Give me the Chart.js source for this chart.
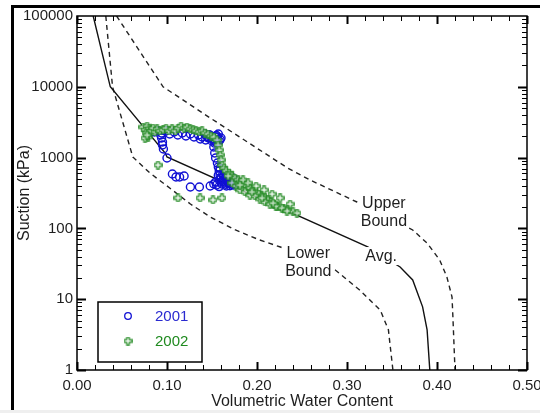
<!DOCTYPE html>
<html>
<head>
<meta charset="utf-8">
<script src="https://cdn.jsdelivr.net/npm/chart.js@4.4.1/dist/chart.umd.min.js"></script>
<style>
  html, body { margin: 0; padding: 0; background: #fff; }
  body { width: 540px; height: 413px; overflow: hidden; position: relative; }
  .frame { position: absolute; left: 11px; top: 5px; width: 600px; height: 405px; border-left: 3px solid #000; border-top: 3px solid #000; }
  .strip { position: absolute; left: 0; top: 410px; width: 540px; height: 3px; background: #efefef; }
  .chart-box { position: absolute; left: 0; top: 0; width: 540px; height: 413px; }
</style>
</head>
<body>
<div class="frame"></div>
<div class="strip"></div>
<div class="chart-box"><canvas id="swccChart"></canvas></div>

<script>
/* ---------- data ---------- */
const xTickLabels = ["0.00", "0.10", "0.20", "0.30", "0.40", "0.50"];
const yTickLabels = ["1", "10", "100", "1000", "10000", "100000"];
const seriesNames = ["2001", "2002"];

// fitted curves (volumetric water content vs suction, kPa)
const avgX = [0.018, 0.037, 0.098, 0.100, 0.323, 0.359, 0.373, 0.384, 0.389, 0.392];
const avgY = [100000, 10000, 1160, 1020, 55, 28.5, 18.7, 7.8, 3.7, 1];

const upperX = [0.044, 0.0956, 0.148, 0.234, 0.259, 0.311, 0.373, 0.389, 0.403, 0.411, 0.4167, 0.4178, 0.42];
const upperY = [100000, 10000, 3630, 713, 483, 236, 95, 62, 35.8, 20.6, 10.7, 5.1, 1];

const lowerX = [0.032, 0.0395, 0.062, 0.081, 0.103, 0.126, 0.148, 0.176, 0.203, 0.226, 0.287, 0.314, 0.337, 0.346, 0.351];
const lowerY = [100000, 10000, 1020, 606, 372, 221, 145, 95, 68.6, 54.6, 25.8, 13.5, 7.0, 3.7, 1];

// measured points 2001
const obs2001X = [
  0.086, 0.090, 0.094, 0.099, 0.103, 0.108, 0.112, 0.117, 0.121, 0.126, 0.130, 0.135, 0.139, 0.142,
  0.146, 0.149, 0.152, 0.156, 0.158, 0.154, 0.150, 0.143, 0.137, 0.157, 0.160, 0.145, 0.153,
  0.145, 0.150, 0.155, 0.159, 0.147, 0.153,
  0.093, 0.094, 0.095, 0.095, 0.096, 0.100,
  0.106, 0.110, 0.114, 0.119, 0.126, 0.136, 0.148, 0.152,
  0.152, 0.153, 0.154, 0.156, 0.157, 0.158, 0.159, 0.160, 0.162, 0.164, 0.168, 0.171, 0.174,
  0.158, 0.154, 0.161, 0.166, 0.170, 0.173, 0.177,
  0.163, 0.159, 0.162, 0.167, 0.155, 0.158, 0.176,
  0.160, 0.165, 0.169, 0.172, 0.157, 0.165, 0.170
];
const obs2001Y = [
  2300, 2376, 2225, 2376, 2153, 2300, 2084, 2225, 2017, 2153, 1952, 2084, 1952, 2153,
  1890, 2017, 1830, 1952, 1714, 1660, 1714, 1772, 1830, 2153, 1890, 2000, 1600,
  1950, 1850, 2050, 1800, 2100, 1980,
  2084, 1890, 1660, 1506, 1322, 987,
  587, 532, 532, 550, 384, 384, 397, 424,
  1412, 1161, 987, 839, 736, 647, 568, 515, 483, 452, 438, 424, 410,
  483, 452, 424, 397, 483, 515, 438,
  550, 713, 587, 468, 410, 390, 470,
  450, 520, 450, 470, 560, 420, 400
];

// measured points 2002
const obs2002X = [
  0.0733, 0.0756, 0.0778, 0.0800, 0.0767, 0.0789, 0.0822, 0.0844, 0.0867, 0.0889,
  0.0922, 0.0956, 0.0989, 0.1022, 0.1056, 0.1089, 0.1122, 0.1156, 0.1189, 0.1222,
  0.1256, 0.1289, 0.1322, 0.1356, 0.1389, 0.1422, 0.1456, 0.1489, 0.1522, 0.1556, 0.0756, 0.0778,
  0.1567, 0.1578, 0.1589, 0.1600, 0.1611, 0.1633, 0.1656, 0.1689, 0.1722, 0.1756,
  0.1789, 0.1822, 0.1856, 0.1889, 0.1922, 0.1956, 0.1989, 0.2022, 0.2056, 0.2089,
  0.2122, 0.2156, 0.2189, 0.2222, 0.2256, 0.2300, 0.2344, 0.2400, 0.2444,
  0.1722, 0.1767, 0.1811, 0.1867, 0.1922, 0.1978, 0.2033, 0.2089, 0.2144, 0.2211, 0.2278, 0.2333,
  0.1678, 0.1844, 0.1900, 0.1989, 0.2078, 0.2167, 0.2256, 0.2367,
  0.1811, 0.1944, 0.2056, 0.2178,
  0.0900, 0.1122, 0.1367, 0.1511, 0.1611
];
const obs2002Y = [
  2704, 2455, 2793, 2535, 2225, 1952, 2376, 2618, 2300, 2535,
  2376, 2455, 2618, 2376, 2535, 2376, 2618, 2793, 2618, 2704,
  2535, 2455, 2376, 2300, 2376, 2225, 2153, 2017, 1952, 1772, 1890, 2084,
  1506, 1280, 1088, 925, 785, 713, 647, 606, 550, 515,
  483, 452, 424, 397, 372, 349, 327, 306, 287, 269,
  252, 236, 221, 207, 201, 188, 182, 171, 165,
  438, 397, 349, 327, 296, 287, 260, 236, 221, 207, 194, 176,
  550, 483, 438, 397, 349, 306, 269, 221,
  410, 327, 269, 228,
  785, 269, 269, 252, 269
];

/* ---------- helpers ---------- */
const FONT = '"Liberation Sans", Arial, sans-serif';
const TEXT = "#1e1e1e";
const BLUE = "#1010d4";
const GREEN = "#248a24";

const toPoints = (xs, ys) => xs.map((x, i) => ({ x: x, y: ys[i] }));

// hollow plus marker used for 2002
function makePlusMarker() {
  const c = document.createElement("canvas");
  c.width = 9;
  c.height = 9;
  const g = c.getContext("2d");
  const m = 4.5, a = 1.3, l = 3.7;
  g.beginPath();
  g.moveTo(m - a, m - l); g.lineTo(m + a, m - l); g.lineTo(m + a, m - a); g.lineTo(m + l, m - a);
  g.lineTo(m + l, m + a); g.lineTo(m + a, m + a); g.lineTo(m + a, m + l); g.lineTo(m - a, m + l);
  g.lineTo(m - a, m + a); g.lineTo(m - l, m + a); g.lineTo(m - l, m - a); g.lineTo(m - a, m - a);
  g.closePath();
  g.fillStyle = "rgba(255,255,255,0.7)";
  g.fill();
  g.strokeStyle = GREEN;
  g.lineWidth = 1.2;
  g.stroke();
  return c;
}
const plusMarker = makePlusMarker();

// curve annotations (data coordinates of the label centre)
const curveNotes = [
  { lines: ["Upper", "Bound"], x: 0.341, y: 171 },
  { lines: ["Lower", "Bound"], x: 0.257, y: 33.5 },
  { lines: ["Avg."], x: 0.338, y: 40.7 }
];

/* ---------- plugin: labels, inward ticks, frame, legend ---------- */
const decorPlugin = {
  id: "decor",
  afterDatasetsDraw(chart) {
    const { ctx, scales: { x, y } } = chart;
    ctx.save();
    ctx.font = "16px " + FONT;
    ctx.textAlign = "center";
    ctx.textBaseline = "middle";
    const lh = 18;
    curveNotes.forEach((n) => {
      const cx = x.getPixelForValue(n.x);
      const cy = y.getPixelForValue(n.y);
      const h = n.lines.length * lh;
      const w = Math.max(...n.lines.map((t) => ctx.measureText(t).width)) + 4;
      ctx.fillStyle = "#fff";
      ctx.fillRect(cx - w / 2, cy - h / 2, w, h);
      ctx.fillStyle = TEXT;
      n.lines.forEach((t, i) => ctx.fillText(t, cx, cy - h / 2 + lh * (i + 0.5) + 1));
    });
    ctx.restore();
  },
  afterDraw(chart) {
    const { ctx, chartArea: area, scales: { x, y } } = chart;
    ctx.save();
    ctx.strokeStyle = "#000";

    // x ticks, bottom and top, every 0.02
    for (let i = 0; i <= 25; i++) {
      const px = Math.round(x.getPixelForValue(i * 0.02)) + 0.5;
      const major = i % 5 === 0;
      const len = major ? 8 : 5;
      ctx.lineWidth = major ? 2 : 1;
      ctx.beginPath();
      ctx.moveTo(px, area.bottom);
      ctx.lineTo(px, area.bottom - len);
      ctx.moveTo(px, area.top);
      ctx.lineTo(px, area.top + len);
      ctx.stroke();
    }

    // y ticks (log), left and right
    for (let d = 0; d < 5; d++) {
      for (let m = 1; m <= 9; m++) {
        const v = m * Math.pow(10, d);
        const py = Math.round(y.getPixelForValue(v)) + 0.5;
        const major = m === 1;
        const len = major ? 9 : 5;
        ctx.lineWidth = major ? 2 : 1;
        ctx.beginPath();
        ctx.moveTo(area.left, py);
        ctx.lineTo(area.left + len, py);
        ctx.moveTo(area.right, py);
        ctx.lineTo(area.right - len, py);
        ctx.stroke();
      }
    }

    // plot frame
    ctx.lineWidth = 1.5;
    ctx.strokeRect(area.left, area.top, area.right - area.left, area.bottom - area.top);

    // legend box
    const bx = area.left + 21;
    const by = area.bottom - 68;
    ctx.lineWidth = 1.5;
    ctx.fillStyle = "#fff";
    ctx.fillRect(bx, by, 104, 60);
    ctx.strokeRect(bx, by, 104, 60);

    ctx.strokeStyle = BLUE;
    ctx.lineWidth = 1.3;
    ctx.beginPath();
    ctx.arc(bx + 30, by + 14, 3.3, 0, Math.PI * 2);
    ctx.stroke();
    ctx.drawImage(plusMarker, bx + 30 - 4.5, by + 39 - 4.5);

    ctx.font = "15px " + FONT;
    ctx.textAlign = "left";
    ctx.textBaseline = "middle";
    ctx.fillStyle = "#2a2ad0";
    ctx.fillText(seriesNames[0], bx + 57, by + 15);
    ctx.fillStyle = "#1f8a1f";
    ctx.fillText(seriesNames[1], bx + 57, by + 40);
    ctx.restore();
  }
};

/* ---------- chart ---------- */
const ctx = document.getElementById("swccChart").getContext("2d");

new Chart(ctx, {
  type: "scatter",
  data: {
    datasets: [
      {
        label: seriesNames[1],
        data: toPoints(obs2002X, obs2002Y),
        pointStyle: plusMarker,
        pointRadius: 4,
        order: 0
      },
      {
        label: seriesNames[0],
        data: toPoints(obs2001X, obs2001Y),
        pointStyle: "circle",
        pointRadius: 4,
        borderColor: BLUE,
        backgroundColor: "rgba(0,0,0,0)",
        borderWidth: 1.4,
        order: 1
      },
      {
        label: "Avg.",
        data: toPoints(avgX, avgY),
        showLine: true,
        borderColor: "#111",
        borderWidth: 1.4,
        pointRadius: 0,
        tension: 0,
        order: 2
      },
      {
        label: "Upper Bound",
        data: toPoints(upperX, upperY),
        showLine: true,
        borderColor: "#222",
        borderWidth: 1.4,
        borderDash: [5, 4],
        pointRadius: 0,
        tension: 0,
        order: 3
      },
      {
        label: "Lower Bound",
        data: toPoints(lowerX, lowerY),
        showLine: true,
        borderColor: "#222",
        borderWidth: 1.4,
        borderDash: [5, 4],
        pointRadius: 0,
        tension: 0,
        order: 4
      }
    ]
  },
  options: {
    responsive: true,
    maintainAspectRatio: false,
    animation: false,
    events: [],
    layout: { padding: { top: 16, right: 13, bottom: 0, left: 0 } },
    plugins: {
      legend: { display: false },
      tooltip: { enabled: false }
    },
    scales: {
      x: {
        type: "linear",
        min: 0,
        max: 0.5,
        grid: { display: false, drawTicks: false },
        border: { display: false },
        ticks: {
          stepSize: 0.1,
          autoSkip: false,
          maxRotation: 0,
          padding: 7,
          color: TEXT,
          font: { family: FONT, size: 15 },
          callback: (v) => xTickLabels[Math.round(v / 0.1)] || ""
        },
        title: {
          display: true,
          text: "Volumetric Water Content",
          color: TEXT,
          font: { family: FONT, size: 16 },
          padding: { top: 0, bottom: 2 }
        },
        afterFit: (scale) => {
          scale.height = 43;
          scale.paddingLeft = 0;
          scale.paddingRight = 0;
        }
      },
      y: {
        type: "logarithmic",
        min: 1,
        max: 100000,
        grid: { display: false, drawTicks: false },
        border: { display: false },
        ticks: {
          autoSkip: false,
          padding: 4,
          color: TEXT,
          font: { family: FONT, size: 15 },
          callback: (v) => {
            const e = Math.round(Math.log10(v));
            return Math.abs(v - Math.pow(10, e)) < 1e-6 * v ? yTickLabels[e] : "";
          }
        },
        title: {
          display: true,
          text: "Suction (kPa)",
          color: TEXT,
          font: { family: FONT, size: 16 },
          padding: { top: 15, bottom: 0 }
        },
        afterFit: (scale) => {
          scale.width = 77;
          scale.paddingTop = 0;
          scale.paddingBottom = 0;
        }
      }
    }
  },
  plugins: [decorPlugin]
});
</script>
</body>
</html>
